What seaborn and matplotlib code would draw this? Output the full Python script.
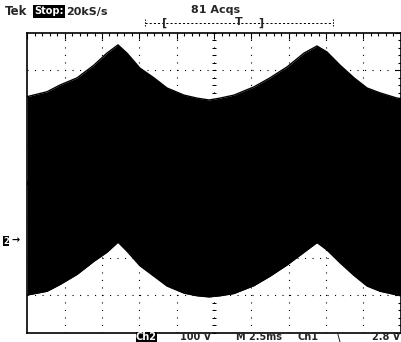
import numpy as np
import pandas as pd
import matplotlib
matplotlib.use('Agg')
import matplotlib.pyplot as plt
from matplotlib.lines import Line2D
import seaborn as sns

# envelope of the burst: time (ms), volts from screen centre
t_ms = [0.0, 1.32, 2.19, 3.33, 4.46, 5.33, 6.07, 6.67, 7.54, 8.48, 9.35, 10.49,
        11.36, 12.16, 12.90, 13.83, 15.17, 16.24, 17.38, 18.52, 19.39, 20.06,
        20.93, 21.87, 22.74, 23.61, 24.75, 25.0]
upper_v = [229, 242, 260, 279, 313, 345, 367, 345, 305, 279, 252, 233,
           225, 220, 225, 233, 255, 279, 308, 345, 364, 348,
           313, 279, 252, 239, 225, 224]
lower_v = [-300, -290, -272, -245, -210, -186, -159, -183, -222, -250, -276, -295,
           -302, -305, -302, -296, -275, -250, -220, -186, -160, -180,
           -214, -248, -276, -290, -300, -302]

header_left = ['Tek', 'Stop:', '20kS/s']
acq_label = '81 Acqs'
footer = ['Ch2', '100 V', 'M 2.5ms', 'Ch1', '2.8 V']

df = pd.DataFrame({'t': t_ms, 'upper': upper_v, 'lower': lower_v})

sns.set_style('white')
plt.rcParams['font.family'] = ['DejaVu Sans']
plt.rcParams['lines.scale_dashes'] = False

W, H = 401, 342
fig = plt.figure(figsize=(W / 100, H / 100), dpi=100)
ax = fig.add_axes([27.3 / W, (H - 332.5) / H, 373.5 / W, 300 / H])

# graticule
dots = (0, (0.8, 4.6))
for x in np.arange(2.5, 25, 2.5):
    ax.axvline(x, color='black', lw=0.8, linestyle=dots, zorder=1)
for y in np.arange(-300, 400, 100):
    ax.axhline(y, color='black', lw=0.8, linestyle=dots, zorder=1)
minor_v = np.arange(-400, 401, 20)
ax.plot(np.full(len(minor_v), 12.5), minor_v, ls='none', marker='_', ms=2.5,
        mew=0.7, color='black', zorder=1)
minor_t = np.arange(0, 25.01, 0.5)
ax.plot(minor_t, np.zeros(len(minor_t)), ls='none', marker='|', ms=2.5,
        mew=0.7, color='black', zorder=1)

# the trace
ax.fill_between(df['t'], df['lower'], df['upper'], color='black', lw=0, zorder=3)
sns.lineplot(data=df, x='t', y='upper', color='black', lw=1, ax=ax, zorder=3)
sns.lineplot(data=df, x='t', y='lower', color='black', lw=1, ax=ax, zorder=3)

ax.set_xlim(0, 25)
ax.set_ylim(-400, 400)
ax.set_xticks(np.arange(0, 25.01, 2.5))
ax.set_xticks(minor_t, minor=True)
ax.set_yticks(np.arange(-400, 401, 100))
ax.set_yticks(minor_v, minor=True)
ax.tick_params(which='both', direction='in', top=True, right=True,
               labelbottom=False, labelleft=False, color='black')
ax.tick_params(which='major', length=4, width=0.8)
ax.tick_params(which='minor', length=2.5, width=0.8)
ax.set_xlabel('')
ax.set_ylabel('')
for s in ax.spines.values():
    s.set_color('black')
    s.set_linewidth(1.2)


def px(x, y):
    return x / W, 1 - y / H


# header
fig.text(*px(5, 15), header_left[0], fontsize=8.5, fontweight='bold', va='baseline')
fig.text(*px(34, 14.5), header_left[1], fontsize=7, fontweight='bold', color='white',
         va='baseline', bbox=dict(facecolor='black', edgecolor='none', pad=0.8))
fig.text(*px(66, 15), header_left[2], fontsize=8, fontweight='bold', va='baseline')
fig.text(*px(215.5, 13), acq_label, fontsize=8, fontweight='bold', va='baseline',
         ha='center')

# trigger position bar
fig.add_artist(Line2D([145 / W, 333 / W], [1 - 23 / H] * 2, color='black', lw=0.7,
                      linestyle=(0, (1.5, 1.5))))
for xe in [145, 333]:
    fig.add_artist(Line2D([xe / W] * 2, [1 - 19 / H, 1 - 27 / H], color='black', lw=0.7,
                          linestyle=(0, (1, 1))))
fig.text(*px(165, 22.5), '[', fontsize=8, va='center', ha='center', fontweight='bold')
fig.text(*px(239, 22), 'T', fontsize=8, va='center', ha='center', fontweight='bold')
fig.text(*px(261, 22.5), ']', fontsize=8, va='center', ha='center', fontweight='bold')

# ground marker
fig.text(*px(3, 243.5), '2', fontsize=6, fontweight='bold', color='white',
         va='baseline', bbox=dict(facecolor='black', edgecolor='none', pad=0.3))
fig.text(*px(11, 243.5), '\u2192', fontsize=7, fontweight='bold', color='black',
         va='baseline')

# footer
fy = 340.5
fig.text(*px(136, fy), footer[0], fontsize=7, fontweight='bold', color='white',
         va='baseline', bbox=dict(facecolor='black', edgecolor='none', pad=0.3))
fig.text(*px(180, fy), footer[1], fontsize=7, fontweight='bold', va='baseline')
fig.text(*px(236, fy), footer[2], fontsize=7, fontweight='bold', va='baseline')
fig.text(*px(297, fy), footer[3], fontsize=7, fontweight='bold', va='baseline')
fig.text(*px(339, fy), '\\', fontsize=7, va='baseline', ha='center', fontweight='bold')
fig.text(*px(372, fy), footer[4], fontsize=7, fontweight='bold', va='baseline')

fig.savefig('out.png', dpi=100, facecolor='white')
